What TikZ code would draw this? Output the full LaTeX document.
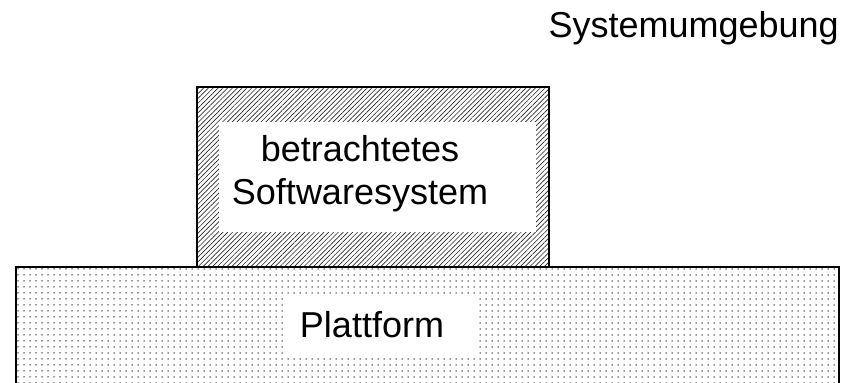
\documentclass[tikz,border=0pt]{standalone}
\usepackage{fontspec}
\setmainfont{Liberation Sans}
\usetikzlibrary{patterns.meta}

\begin{document}
\begin{tikzpicture}[x=1pt,y=-1pt,
    txt/.style={font=\fontsize{36}{43}\selectfont, inner sep=0pt},
    dotted area/.style={draw, line width=1.3pt, pattern={Dots[distance=6pt,radius=0.75pt]}, pattern color=black!85},
    hatched area/.style={draw, line width=1.3pt, pattern={Lines[angle=45,distance=3.4pt,line width=0.65pt]}, pattern color=black!85},
    blank/.style={fill=white}]
  \clip (0,0) rectangle (844,383);

  % Plattform (runs off the bottom)
  \draw[dotted area] (16,267) rectangle (839,400);
  \fill[blank] (285,295) rectangle (477,357);
  \node[txt, anchor=base] (plattform) at (372,337) {Plattform};

  % betrachtetes Softwaresystem
  \draw[hatched area] (197,87) rectangle (549,267);
  \fill[blank] (219,122) rectangle (536,232);
  \node[txt, align=center] (system) at (360,174) {betrachtetes\\Softwaresystem};

  \node[txt, anchor=base east] (umgebung) at (839,37) {Systemumgebung};
\end{tikzpicture}
\end{document}
